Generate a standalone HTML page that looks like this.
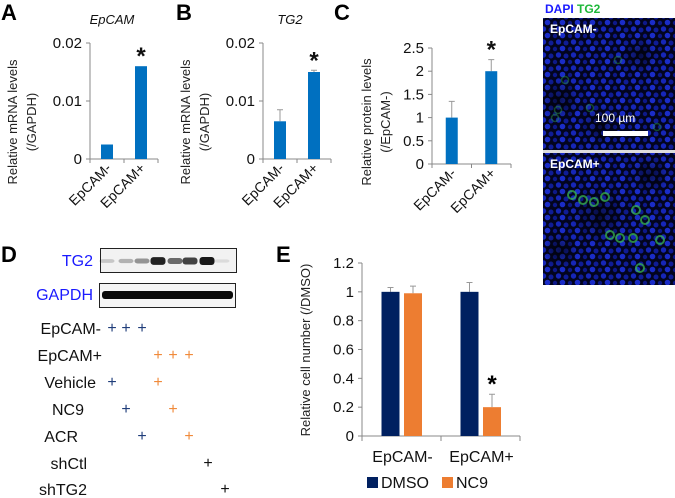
<!DOCTYPE html>
<html><head><meta charset="utf-8">
<style>
html,body{margin:0;padding:0;background:#fff;}
svg{display:block;font-family:"Liberation Sans",Arial,sans-serif;}
</style></head>
<body>
<svg id="fig" width="675" height="498" viewBox="0 0 675 498" xmlns="http://www.w3.org/2000/svg">
<defs>
<pattern id="nuclei" width="15" height="13" patternUnits="userSpaceOnUse">
<rect width="15" height="13" fill="#02041e"/>
<circle cx="3.5" cy="3" r="2.7" fill="#1626b8"/>
<circle cx="11" cy="4" r="2.5" fill="#0f1c96"/>
<circle cx="7.5" cy="9.5" r="2.8" fill="#1a2cc8"/>
<circle cx="0" cy="10" r="2.2" fill="#0d1888"/>
<circle cx="15" cy="10" r="2.2" fill="#0d1888"/>
</pattern>
<radialGradient id="dark" cx="0.5" cy="0.5" r="0.5">
<stop offset="0" stop-color="#000" stop-opacity="0.55"/>
<stop offset="1" stop-color="#000" stop-opacity="0"/>
</radialGradient>
<clipPath id="clipA"><rect x="543" y="18" width="132" height="132"/></clipPath>
<clipPath id="clipB"><rect x="543" y="153" width="132" height="132"/></clipPath>
</defs>
</svg>
<script>
// Panel A
const catsAB = ["EpCAM-","EpCAM+"];
const epcamVals = [0.0025, 0.016];
const epcamErr = [0, 0];
const tg2Vals = [0.0065, 0.015];
const tg2Err = [0.002, 0.0003];
const mrnaTicks = [0, 0.01, 0.02];
const mrnaTickLabels = ["0","0.01","0.02"];
// Panel C
const protVals = [1, 2];
const protErr = [0.35, 0.25];
const protTicks = [0,0.5,1,1.5,2,2.5];
const protTickLabels = ["0","0.5","1","1.5","2","2.5"];
// Panel E
const catsE = ["EpCAM-","EpCAM+"];
const seriesE = ["DMSO","NC9"];
const dmsoVals = [1.0, 1.0];
const dmsoErr = [0.03, 0.065];
const nc9Vals = [0.99, 0.2];
const nc9Err = [0.05, 0.09];
const eTicks = [0,0.2,0.4,0.6,0.8,1,1.2];
const eTickLabels = ["0","0.2","0.4","0.6","0.8","1","1.2"];
// Panel D blot band intensities (0-1)
const tg2Bands = [0.15,0.25,0.4,0.95,0.6,0.8,1.0,0.05];

const NS="http://www.w3.org/2000/svg";
const svg=document.getElementById('fig');
function mk(tag,attrs,parent){const e=document.createElementNS(NS,tag);for(const k in attrs)e.setAttribute(k,attrs[k]);(parent||svg).appendChild(e);return e;}
function txt(s,attrs,parent){const e=mk('text',attrs,parent);e.textContent=s;return e;}

function smallChart(o){
  const g=mk('g',{});
  
  
  const y=v=>o.y0-(v/o.max)*(o.y0-o.yTop);
  const ax=mk('g',{},g);
  
  
  mk('line',{x1:o.x0,y1:o.yTop,x2:o.x0,y2:o.y0,stroke:'#888','stroke-width':1},ax);
  o.ticks.forEach((t,i)=>{
    mk('line',{x1:o.x0-4,y1:y(t),x2:o.x0,y2:y(t),stroke:'#888'},ax);
    const l=txt(o.tickLabels[i],{x:o.x0-8,y:y(t)+5,'font-size':15,'text-anchor':'end',fill:'#111'},ax);
    
    
  });
  const xa=mk('line',{x1:o.x0,y1:o.y0,x2:o.x1,y2:o.y0,stroke:'#888'},g);
  
  
  const n=o.vals.length, band=(o.x1-o.x0)/n;
  for(let i=0;i<=n;i++)mk('line',{x1:o.x0+band*i,y1:o.y0,x2:o.x0+band*i,y2:o.y0+4,stroke:'#888'},g);
  o.vals.forEach((v,i)=>{
    const cx=o.x0+band*(i+0.5);
    if(o.err[i]>0){
      const e=mk('path',{d:`M${cx},${y(v)} V${y(v+o.err[i])} M${cx-3},${y(v+o.err[i])} H${cx+3}`,stroke:'#999',fill:'none'},g);
      
      
    }
    const b=mk('rect',{x:cx-6,y:y(v),width:12,height:o.y0-y(v),fill:'#0070c0'},g);
    
    
    const l=txt(o.cats[i],{transform:`translate(${cx+5},${o.y0+10}) rotate(-45)`,'font-size':14,'text-anchor':'end',fill:'#111'},g);
    
    
  });
  if(o.star!=null){
    const cx=o.x0+band*(o.star+0.5);
    const s=txt('*',{x:cx,y:y(o.vals[o.star]+o.err[o.star])-2,'font-size':24,'font-weight':'bold','text-anchor':'middle',fill:'#111'},g);
    
    
  }
  const yl=txt('',{transform:`translate(${o.labX},${o.labY}) rotate(-90)`,'font-size':13,'text-anchor':'middle',fill:'#222'},g);
  
  
  o.ylab.forEach((s,i)=>{const t=mk('tspan',{x:0,dy:i?19:0},yl);t.textContent=s;});
  if(o.title){const t=txt(o.title,{x:o.titleX,y:24,'font-size':13,'font-style':'italic','text-anchor':'middle',fill:'#111'},g);
    }
  const L=txt(o.letter,{x:o.letterX,y:20,'font-size':22,'font-weight':'bold',fill:'#000'},g);
  
  
}
smallChart({name:'chart-a',letter:'A',letterX:1,x0:90,x1:158,yTop:43,y0:159,max:0.02,ticks:mrnaTicks,tickLabels:mrnaTickLabels,vals:epcamVals,err:epcamErr,cats:catsAB,star:1,ylab:['Relative mRNA levels','(/GAPDH)'],labX:17,labY:122,title:'EpCAM',titleX:112});
smallChart({name:'chart-b',letter:'B',letterX:176,x0:263,x1:331,yTop:43,y0:159,max:0.02,ticks:mrnaTicks,tickLabels:mrnaTickLabels,vals:tg2Vals,err:tg2Err,cats:catsAB,star:1,ylab:['Relative mRNA levels','(/GAPDH)'],labX:190,labY:122,title:'TG2',titleX:290});
smallChart({name:'chart-c',letter:'C',letterX:334,x0:432,x1:511,yTop:48,y0:164,max:2.5,ticks:protTicks,tickLabels:protTickLabels,vals:protVals,err:protErr,cats:catsAB,star:1,ylab:['Relative protein levels','(/EpCAM-)'],labX:371,labY:122});

// Microscopy
(function(){
  const g=mk('g',{});
  
  
  const t=txt('',{x:545,y:13,'font-size':12,'font-weight':'bold'},g);
  const a=mk('tspan',{fill:'#1a1aff'},t);a.textContent='DAPI ';
  const b=mk('tspan',{fill:'#1fb83a'},t);b.textContent='TG2';
  
  [[18,'EpCAM-','clipA'],[153,'EpCAM+','clipB']].forEach(([y0,lab,clip],k)=>{
    const cg=mk('g',{'clip-path':`url(#${clip})`},g);
    const r=mk('rect',{x:543,y:y0,width:132,height:132,fill:'url(#nuclei)'},cg);
    
    const dk=k?[[600,215,30],[650,175,20],[560,250,18]]:[[560,100,22],[640,55,18],[600,125,20]];
    dk.forEach(d=>mk('circle',{cx:d[0],cy:d[1],r:d[2],fill:'url(#dark)'},cg));
    const l=txt(lab,{x:550,y:y0+15,'font-size':12,'font-weight':'bold',fill:'#fff'},g);
    
  });
  mk('rect',{x:543,y:150,width:132,height:3,fill:'#ddd'},g);
  const gA=[[558,110],[555,118],[565,80],[590,108],[618,60],[657,127]];
  const gB=[[572,195],[583,200],[594,202],[605,197],[636,210],[645,220],[610,235],[620,238],[633,238],[660,240],[640,268]];
  gA.forEach(p=>mk('circle',{cx:p[0],cy:p[1],r:3.5,fill:'none',stroke:'#2fa040','stroke-width':1.5,opacity:0.45},g));
  gB.forEach(p=>mk('circle',{cx:p[0],cy:p[1],r:4,fill:'none',stroke:'#3cc050','stroke-width':2,opacity:0.7},g));
  const s=txt('100 µm',{x:595,y:122,'font-size':12,fill:'#fff'},g);
  
  const sb=mk('rect',{x:603,y:131,width:45,height:5,fill:'#fff'},g);
  
})();

// Panel D
(function(){
  const g=mk('g',{});
  
  
  const L=txt('D',{x:1,y:262,'font-size':22,'font-weight':'bold'},g);
  
  const t1=txt('TG2',{x:93,y:266,'font-size':16,fill:'#1a1aff','text-anchor':'end'},g);
  
  const t2=txt('GAPDH',{x:93,y:300,'font-size':16,fill:'#1a1aff','text-anchor':'end'},g);
  
  const b1=mk('rect',{x:100.5,y:248.5,width:136,height:24,fill:'#f2f2f2',stroke:'#222'},g);
  
  const xs=[107,126,142,158,175,190,207,222];
  tg2Bands.forEach((v,i)=>{
    const e=mk('rect',{x:xs[i]-7.5,y:261-1.5-v*2.5,width:15,height:3+v*5,rx:3,fill:'#000',opacity:Math.min(1,v*0.85+0.05)},g);
    
  });
  const b2=mk('rect',{x:99.5,y:283.5,width:136,height:24,fill:'#f5f5f5',stroke:'#222'},g);
  
  mk('rect',{x:102,y:291,width:131,height:8,rx:3,fill:'#0a0a0a'},g);
  const rows=['EpCAM-','EpCAM+','Vehicle','NC9','ACR','shCtl','shTG2'];
  const rowY=[334,361,388,415,442,469,495];
  const rowX=[101,102,96,84,78,87,87];
  rows.forEach((r,i)=>{const t=txt(r,{x:rowX[i],y:rowY[i],'font-size':16,'text-anchor':'end',fill:'#111'},g);
    });
  const plus=[[0,112,'#1f3d7a'],[0,126,'#1f3d7a'],[0,142,'#1f3d7a'],[1,158,'#f08a3a'],[1,173,'#f08a3a'],[1,189,'#f08a3a'],
    [2,112,'#1f3d7a'],[2,158,'#f08a3a'],[3,126,'#1f3d7a'],[3,173,'#f08a3a'],[4,142,'#1f3d7a'],[4,189,'#f08a3a'],[5,208,'#111'],[6,225,'#111']];
  plus.forEach(p=>{const t=txt('+',{x:p[1],y:rowY[p[0]]-1,'font-size':16,'text-anchor':'middle',fill:p[2]},g);
    });
})();

// Panel E
(function(){
  const g=mk('g',{});
  
  
  const x0=362,x1=520,y0=436,yTop=263,max=1.2;
  const y=v=>y0-(v/max)*(y0-yTop);
  const L=txt('E',{x:276,y:262,'font-size':22,'font-weight':'bold'},g);
  
  mk('line',{x1:x0,y1:yTop,x2:x0,y2:y0,stroke:'#888'},g);
  eTicks.forEach((t,i)=>{mk('line',{x1:x0-4,y1:y(t),x2:x0,y2:y(t),stroke:'#888'},g);
    const l=txt(eTickLabels[i],{x:x0-8,y:y(t)+5,'font-size':15,'text-anchor':'end',fill:'#111'},g);
    });
  mk('line',{x1:x0,y1:y0,x2:x1,y2:y0,stroke:'#888'},g);
  const band=(x1-x0)/catsE.length;
  for(let i=0;i<=catsE.length;i++)mk('line',{x1:x0+band*i,y1:y0,x2:x0+band*i,y2:y0+5,stroke:'#888'},g);
  const series=[[dmsoVals,dmsoErr,'#002060',-11],[nc9Vals,nc9Err,'#ed7d31',11.5]];
  catsE.forEach((c,i)=>{
    const cx=x0+band*(i+0.5);
    series.forEach((s,k)=>{
      const bx=cx+s[3],v=s[0][i],e=s[1][i];
      mk('path',{d:`M${bx},${y(v)} V${y(v+e)} M${bx-3},${y(v+e)} H${bx+3}`,stroke:'#999',fill:'none'},g);
      const b=mk('rect',{x:bx-9,y:y(v),width:18,height:y0-y(v),fill:s[2]},g);
      
    });
    const l=txt(c,{x:cx+1,y:y0+26,'font-size':16,'text-anchor':'middle',fill:'#111'},g);
    
  });
  const sx=x0+band*1.5+11.5;
  const st=txt('*',{x:sx,y:y(nc9Vals[1]+nc9Err[1])-2,'font-size':24,'font-weight':'bold','text-anchor':'middle'},g);
  
  const yl=txt('Relative cell number (/DMSO)',{transform:'translate(310,350) rotate(-90)','font-size':13,'text-anchor':'middle',fill:'#222'},g);
  
  const lg=mk('g',{},g);
  
  [[367,'#002060','DMSO'],[442,'#ed7d31','NC9']].forEach(p=>{
    const e=mk('g',{},lg);
    
    mk('rect',{x:p[0],y:477,width:11,height:11,fill:p[1]},e);
    txt(p[2],{x:p[0]+14,y:488,'font-size':16,fill:'#111'},e);
  });
})();
</script>
</body></html>
